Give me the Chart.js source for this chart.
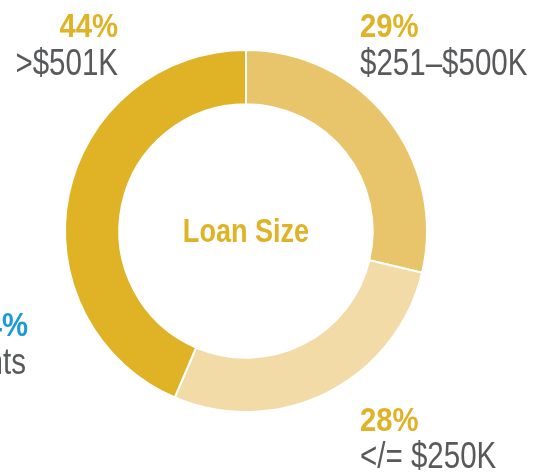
<!DOCTYPE html>
<html>
<head>
<meta charset="utf-8">
<script src="https://cdn.jsdelivr.net/npm/chart.js@4"></script>
<style>
  html, body { margin: 0; padding: 0; background: #fff; }
  #wrap { width: 548px; height: 472px; }
</style>
</head>
<body>
<div id="wrap"><canvas id="loans"></canvas></div>
<script>
// Loan size split (clockwise from top)
const categories = ['$251–$500K', '</= $250K', '>$501K'];
const shares = [29, 28, 44];
const colors = ['#E8C56A', '#F2DBA6', '#E0B226'];
const centerTitle = 'Loan Size';

const font = '"Liberation Sans", Arial, sans-serif';
const gold = '#E0B226';
const grey = '#58595B';

// labels around the ring, plus the clipped bits of the neighbouring chart
// no condensed font installed, so squeeze the text horizontally
const labelPlugin = {
    id: 'labels',
    afterDraw(chart) {
        const ctx = chart.ctx;
        const meta = chart.getDatasetMeta(0).data[0];

        const put = (txt, x, y, f, color, align, sx) => {
            ctx.save();
            ctx.font = f;
            ctx.fillStyle = color;
            ctx.textAlign = align;
            ctx.textBaseline = 'alphabetic';
            ctx.translate(x, y);
            ctx.scale(sx, 1);
            ctx.fillText(txt, 0, 0);
            ctx.restore();
        };
        const pct = 'bold 34px ' + font;
        const lab = '36px ' + font;

        put(shares[2] + '%', 118, 37, pct, gold, 'right', 0.86);
        put(categories[2], 118, 75, lab, grey, 'right', 0.82);

        put(shares[0] + '%', 360, 37, pct, gold, 'left', 0.86);
        put(categories[0], 360, 75, lab, grey, 'left', 0.82);

        put(shares[1] + '%', 360, 431, pct, gold, 'left', 0.86);
        put(categories[1], 360, 468, lab, grey, 'left', 0.82);

        // cut-off text from the chart next door
        put('24%', 28, 336, pct, '#1A9AD6', 'right', 0.86);
        put('Participants', 26, 374, lab, grey, 'right', 0.82);

        put(centerTitle, meta.x, meta.y + 11, 'bold 33px ' + font, gold, 'center', 0.82);
    }
};

new Chart(document.getElementById('loans'), {
    type: 'doughnut',
    data: {
        labels: categories,
        datasets: [{
            data: shares,
            backgroundColor: colors,
            borderColor: '#ffffff',
            borderWidth: 2
        }]
    },
    options: {
        responsive: true,
        maintainAspectRatio: false,
        animation: false,
        cutout: '70%',
        layout: { padding: { left: 64, right: 120, top: 49, bottom: 59 } },
        plugins: {
            legend: { display: false },
            tooltip: { enabled: false }
        }
    },
    plugins: [labelPlugin]
});
</script>
</body>
</html>
